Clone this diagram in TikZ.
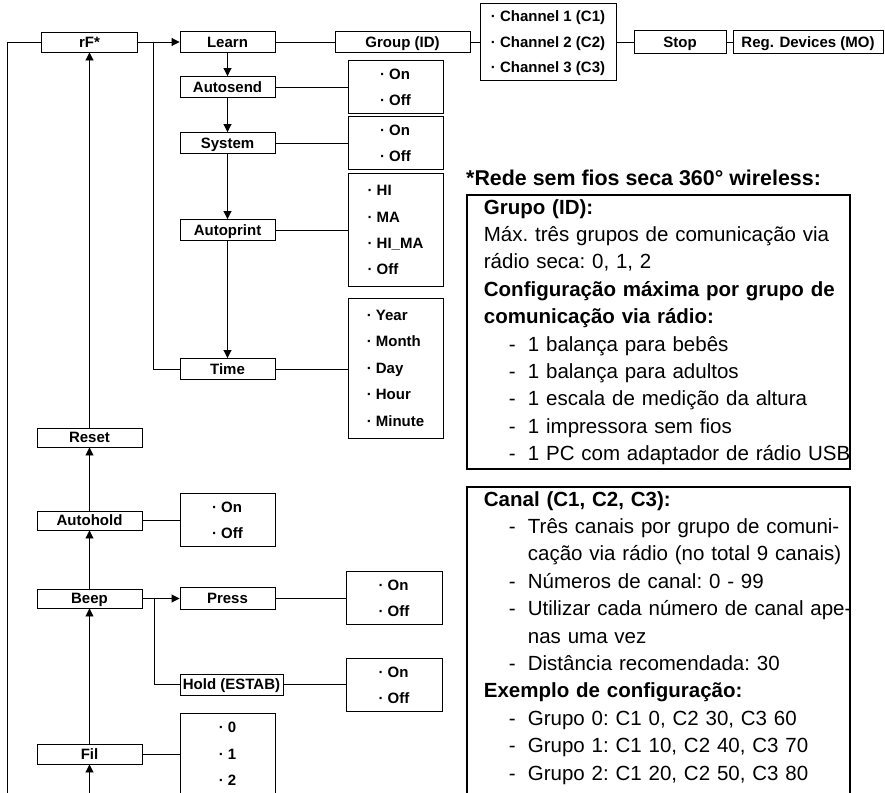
\documentclass[tikz,border=0pt]{standalone}
\usepackage{fontspec}
\setmainfont{Liberation Sans}
\usetikzlibrary{arrows.meta,positioning}

\tikzset{
  menu/.style={draw, line width=0.9pt, inner sep=0pt, minimum height=21pt, minimum width=95pt,
    text height=10.8pt, text depth=0pt, font=\fontsize{15}{18}\selectfont\bfseries},
  opts/.style={draw, line width=0.9pt, inner sep=0pt, minimum width=95pt, align=left,
    font=\fontsize{15}{26.4}\selectfont\bfseries},
  info/.style={draw, line width=1.8pt, inner sep=0pt, text width=383pt, align=left,
    anchor=north west, font=\fontsize{20.5}{27.4}\selectfont\frenchspacing},
  link/.style={line width=0.9pt},
  arr/.style={link, -{Triangle[length=8pt,width=8pt]}}
}
\newcommand{\bul}[1]{\strut· #1}
\newcommand{\infohead}[1]{\hspace*{17pt}\strut\mbox{\textbf{#1}}}
\newcommand{\infoline}[1]{\hspace*{17pt}\strut\mbox{#1}}
\newcommand{\infoitem}[1]{\hspace*{42pt}\strut\makebox[19pt][l]{-}\mbox{#1}}
\newcommand{\infocont}[1]{\hspace*{61pt}\strut\mbox{#1}}

\begin{document}
\begin{tikzpicture}[x=1pt,y=-1pt]
\useasboundingbox (0,0) rectangle (885,792);

% top row
\node[menu, minimum width=96pt, minimum height=20pt] (rF) at (89.5,42) {rF*};
\node[menu] (learn) at (227.5,42) {Learn};
\node[menu, minimum width=135pt] (group) at (402.5,42) {Group (ID)};
\node[opts, minimum width=136pt, minimum height=74pt, font=\fontsize{15}{25.6}\selectfont\bfseries] (chan) at (548,42)
  {\bul{Channel 1 (C1)}\\ \bul{Channel 2 (C2)}\\ \bul{Channel 3 (C3)}};
\node[menu, minimum width=92pt, minimum height=23pt] (stop) at (680,42) {Stop};
\node[menu, minimum width=150pt, minimum height=23pt] (regdev) at (808,42) {Reg. Devices (MO)};

% learn submenu
\node[menu] (autosend) at (227.5,87) {Autosend};
\node[opts, minimum height=52pt] (asopts) at (395.5,87) {\bul{On}\\ \bul{Off}};
\node[menu] (system) at (227.5,143) {System};
\node[opts, minimum height=52pt] (sysopts) at (395.5,143) {\bul{On}\\ \bul{Off}};
\node[menu] (autoprint) at (227.5,230) {Autoprint};
\node[opts, minimum height=113pt] (apopts) at (395.5,230)
  {\bul{HI}\\ \bul{MA}\\ \bul{HI\_MA}\\ \bul{Off}};
\node[menu] (time) at (227.5,369) {Time};
\node[opts, minimum height=140pt] (timeopts) at (395.5,368)
  {\bul{Year}\\ \bul{Month}\\ \bul{Day}\\ \bul{Hour}\\ \bul{Minute}};

% main column
\node[menu, minimum width=105pt, minimum height=19pt] (reset) at (89.5,437.5) {Reset};
\node[menu, minimum width=105pt, minimum height=19pt] (autohold) at (89.5,520.5) {Autohold};
\node[opts, minimum height=52pt] (ahopts) at (227.5,520) {\bul{On}\\ \bul{Off}};
\node[menu, minimum width=105pt, minimum height=19pt] (beep) at (89.5,598.5) {Beep};
\node[menu, minimum height=22pt] (press) at (227.5,598.5) {Press};
\node[opts, minimum width=96pt, minimum height=52pt] (pressopts) at (394,598) {\bul{On}\\ \bul{Off}};
\node[menu, minimum width=103pt] (hold) at (231.5,684.5) {Hold (ESTAB)};
\node[opts, minimum width=96pt, minimum height=52pt] (holdopts) at (394,685) {\bul{On}\\ \bul{Off}};
\node[menu, minimum width=105pt, minimum height=20pt] (fil) at (89.5,754) {Fil};
\node[opts, minimum height=82pt] (filopts) at (227.5,754) {\bul{0}\\ \bul{1}\\ \bul{2}};

\coordinate (lj) at (153,42);
\coordinate (bj) at (154,598.5);
\coordinate (loopbot) at (7.5,800);
\coordinate (filbot) at (89.5,800);

% connectors
\draw[arr] (rF) -- (learn);
\draw[link] (lj) |- (time.west);
\draw[arr] (learn) -- (autosend);
\draw[arr] (autosend) -- (system);
\draw[arr] (system) -- (autoprint);
\draw[arr] (autoprint) -- (time);
\draw[link] (learn) -- (group);
\draw[link] (group) -- (chan);
\draw[link] (chan) -- (stop);
\draw[link] (stop) -- (regdev);
\draw[link] (autosend.east) -- (autosend.east -| asopts.west);
\draw[link] (system.east) -- (system.east -| sysopts.west);
\draw[link] (autoprint.east) -- (autoprint.east -| apopts.west);
\draw[link] (time.east) -- (time.east -| timeopts.west);

\draw[link] (rF.west) -| (loopbot);
\draw[arr] (reset) -- (rF);
\draw[arr] (autohold) -- (reset);
\draw[arr] (beep) -- (autohold);
\draw[arr] (fil) -- (beep);
\draw[arr] (filbot) -- (fil);
\draw[arr] (beep) -- (press);
\draw[link] (bj) |- (hold.west);
\draw[link] (autohold.east) -- (autohold.east -| ahopts.west);
\draw[link] (press.east) -- (press.east -| pressopts.west);
\draw[link] (hold.east) -- (hold.east -| holdopts.west);
\draw[link] (fil.east) -- (fil.east -| filopts.west);

% notes
\node[anchor=base west, inner sep=0pt, font=\fontsize{21.4}{25}\selectfont\bfseries] (title) at (466,185)
  {*Rede sem fios seca 360° wireless:};
\node[info] (grpinfo) at (466,194) {\infohead{Grupo (ID):}\\
  \infoline{Máx. três grupos de comunicação via}\\
  \infoline{rádio seca: 0, 1, 2}\\
  \infohead{Configuração máxima por grupo de}\\
  \infohead{comunicação via rádio:}\\
  \infoitem{1 balança para bebês}\\
  \infoitem{1 balança para adultos}\\
  \infoitem{1 escala de medição da altura}\\
  \infoitem{1 impressora sem fios}\\
  \infoitem{1 PC com adaptador de rádio USB}};
\node[info] (chinfo) at (466,486) {\infohead{Canal (C1, C2, C3):}\\
  \infoitem{Três canais por grupo de comuni-}\\
  \infocont{cação via rádio (no total 9 canais)}\\
  \infoitem{Números de canal: 0 - 99}\\
  \infoitem{Utilizar cada número de canal ape-}\\
  \infocont{nas uma vez}\\
  \infoitem{Distância recomendada: 30}\\
  \infohead{Exemplo de configuração:}\\
  \infoitem{Grupo 0: C1 0, C2 30, C3 60}\\
  \infoitem{Grupo 1: C1 10, C2 40, C3 70}\\
  \infoitem{Grupo 2: C1 20, C2 50, C3 80}\vspace*{24pt}};
\end{tikzpicture}
\end{document}
